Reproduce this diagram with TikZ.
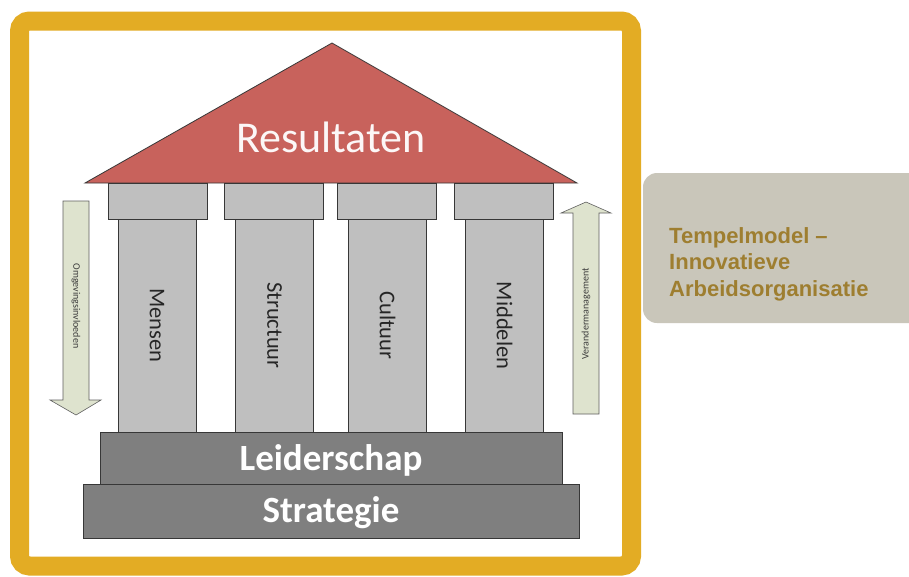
\documentclass[tikz,border=0pt]{standalone}
\usepackage{fontspec}
\setmainfont{Carlito}
\newfontfamily\arialfont{Liberation Sans}
\definecolor{framecol}{RGB}{227,172,36}
\definecolor{roofcol}{RGB}{200,98,92}
\definecolor{pillarcol}{RGB}{191,191,191}
\definecolor{basecol}{RGB}{127,127,127}
\definecolor{edgecol}{RGB}{55,55,55}
\definecolor{arrowcol}{RGB}{222,227,206}
\definecolor{boxcol}{RGB}{201,198,186}
\definecolor{titlecol}{RGB}{158,126,48}
\definecolor{textdark}{RGB}{38,38,38}
\tikzset{
  block/.style={draw=edgecol, line width=0.8pt, inner sep=0pt, outer sep=0pt},
  capbox/.style={block, fill=pillarcol, minimum width=99pt, minimum height=36pt},
  shaftbox/.style={block, fill=pillarcol, minimum width=78pt, minimum height=213pt},
  basebox/.style={block, fill=basecol},
  pillartext/.style={font=\fontsize{22.5}{26}\selectfont, text=textdark, inner sep=0pt},
  basetext/.style={font=\fontsize{37}{40}\selectfont\bfseries, text=white, inner sep=0pt, anchor=base},
  arrowshape/.style={fill=arrowcol, draw=edgecol!80, line width=0.6pt},
  arrowtext/.style={font=\fontsize{10}{12}\selectfont, text=textdark!90, inner sep=0pt}
}
\begin{document}
\begin{tikzpicture}[x=1pt,y=-1pt]
\useasboundingbox (0,0) rectangle (909,576);
\fill[white] (0,0) rectangle (909,576);
% outer frame
\draw[framecol, line width=19pt, rounded corners=10pt] (19.5,21) rectangle (631.5,566);
% roof
\draw[fill=roofcol, draw=edgecol, line width=0.8pt] (85,183) -- (332,43) -- (577,183) -- cycle;
\node[font=\fontsize{44}{48}\selectfont, text=white!95!roofcol, anchor=base, inner sep=0pt] (res) at (331,152) {Resultaten};
% capitals
\node[capbox] (c1) at (157.5,201) {};
\node[capbox] (c2) at (273.5,201) {};
\node[capbox] (c3) at (387,201) {};
\node[capbox] (c4) at (504,201) {};
% shafts
\node[shaftbox] (p1) at (157,325.5) {};
\node[shaftbox] (p2) at (274.5,325.5) {};
\node[shaftbox] (p3) at (387.5,325.5) {};
\node[shaftbox] (p4) at (504.5,325.5) {};
\node[pillartext, rotate=-90] (t1) at (p1) {Mensen};
\node[pillartext, rotate=-90] (t2) at (p2) {Structuur};
\node[pillartext, rotate=-90] (t3) at (p3) {Cultuur};
\node[pillartext, rotate=-90] (t4) at (p4) {Middelen};
% base steps
\node[basebox, minimum width=462pt, minimum height=52pt] (lead) at (331,458) {};
\node[basebox, minimum width=496pt, minimum height=54pt] (strat) at (331,511) {};
\node[basetext] (leadt) at (331,470) {Leiderschap};
\node[basetext] (stratt) at (331,522) {Strategie};
% side arrows
\draw[arrowshape] (63,201) -- (89,201) -- (89,400) -- (101,400) -- (76,415) -- (50,400) -- (63,400) -- cycle;
\node[arrowtext, rotate=-90] (omg) at (76,306) {Omgevingsinvloeden};
\draw[arrowshape] (573,414) -- (599,414) -- (599,213) -- (611,213) -- (586,202) -- (561,213) -- (573,213) -- cycle;
\node[arrowtext, rotate=90] (ver) at (586,314) {Verandermanagement};
% title box
\fill[boxcol, rounded corners=14pt] (643,173) rectangle (930,323);
\node[anchor=north west, inner sep=0pt, align=left, text=titlecol,
      font=\arialfont\bfseries\fontsize{22}{26.5}\selectfont] (title) at (669,227)
      {Tempelmodel \textendash\\Innovatieve\\Arbeidsorganisatie};
\end{tikzpicture}
\end{document}
